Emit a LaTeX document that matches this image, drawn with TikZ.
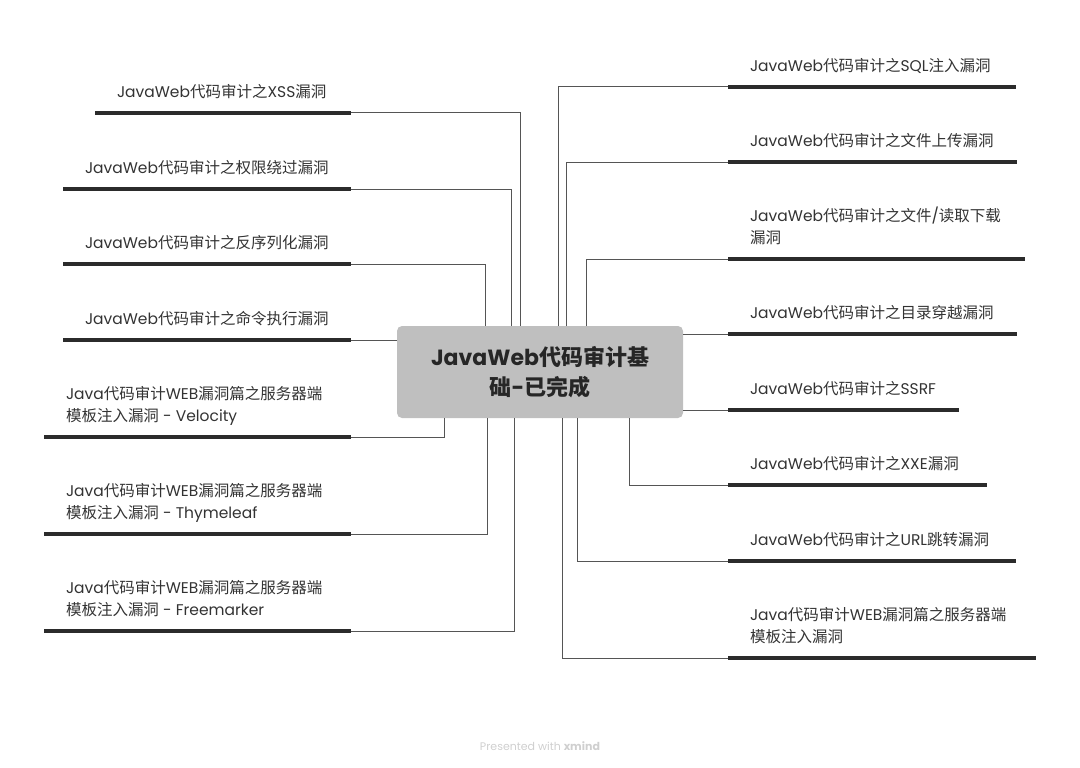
\documentclass[tikz,border=0pt]{standalone}
\usepackage{fontspec}
\setmainfont{Poppins}
\newfontfamily\cjk{Noto Sans CJK SC}
\definecolor{txt}{HTML}{333333}
\definecolor{ulinec}{HTML}{2B2B2B}
\definecolor{connc}{HTML}{555555}
\definecolor{boxfill}{HTML}{BFBFBF}
\definecolor{wmc}{HTML}{CFCFCF}
\newcommand\zh[1]{{\cjk #1}}
\newcommand\tp[2]{\parbox[b]{#1}{\raggedright #2}}
\tikzset{
  topic/.style={anchor=south west, inner xsep=22pt, inner ysep=15.5pt, outer sep=0pt,
    text depth=0pt, font=\fontsize{15.5}{22}\selectfont, text=txt},
  underl/.style={line width=4pt, color=ulinec},
  conn/.style={line width=1pt, color=connc},
  rootbox/.style={fill=boxfill, rounded corners=5pt, minimum width=286pt, minimum height=92pt,
    align=center, inner sep=0pt, outer sep=0pt, text=black!85,
    font=\fontsize{22}{30}\selectfont\bfseries},
}
\begin{document}
\begin{tikzpicture}[x=1pt,y=-1pt]
\useasboundingbox (0,0) rectangle (1080,768);

\node[rootbox] (root) at (540,372) {JavaWeb\zh{代码审计基}\\\zh{础}-\zh{已完成}};

% left topics
\node[topic] (l1) at (95,113) {\tp{212pt}{JavaWeb\zh{代码审计之}XSS\zh{漏洞}}};
\node[topic] (l2) at (63,189) {\tp{244pt}{JavaWeb\zh{代码审计之权限绕过漏洞}}};
\node[topic] (l3) at (63,264) {\tp{244pt}{JavaWeb\zh{代码审计之反序列化漏洞}}};
\node[topic] (l4) at (63,340) {\tp{244pt}{JavaWeb\zh{代码审计之命令执行漏洞}}};
\node[topic] (l5) at (44,437) {\tp{263pt}{Java\zh{代码审计}WEB\zh{漏洞篇之服务器端}\\\zh{模板注入漏洞} - Velocity}};
\node[topic] (l6) at (44,534) {\tp{263pt}{Java\zh{代码审计}WEB\zh{漏洞篇之服务器端}\\\zh{模板注入漏洞} - Thymeleaf}};
\node[topic] (l7) at (44,631) {\tp{263pt}{Java\zh{代码审计}WEB\zh{漏洞篇之服务器端}\\\zh{模板注入漏洞} - Freemarker}};

% right topics
\node[topic] (r1) at (728,87)  {\tp{244pt}{JavaWeb\zh{代码审计之}SQL\zh{注入漏洞}}};
\node[topic] (r2) at (728,162) {\tp{245pt}{JavaWeb\zh{代码审计之文件上传漏洞}}};
\node[topic] (r3) at (728,259) {\tp{253pt}{JavaWeb\zh{代码审计之文件}/\zh{读取下载}\\\zh{漏洞}}};
\node[topic] (r4) at (728,334) {\tp{245pt}{JavaWeb\zh{代码审计之目录穿越漏洞}}};
\node[topic] (r5) at (728,410) {\tp{187pt}{JavaWeb\zh{代码审计之}SSRF}};
\node[topic] (r6) at (728,485) {\tp{215pt}{JavaWeb\zh{代码审计之}XXE\zh{漏洞}}};
\node[topic] (r7) at (728,561) {\tp{244pt}{JavaWeb\zh{代码审计之}URL\zh{跳转漏洞}}};
\node[topic] (r8) at (728,658) {\tp{264pt}{Java\zh{代码审计}WEB\zh{漏洞篇之服务器端}\\\zh{模板注入漏洞}}};

% underlines
\foreach \n in {l1,l2,l3,l4,l5,l6,l7,r1,r2,r3,r4,r5,r6,r7,r8}
  \draw[underl] (\n.south west) -- (\n.south east);

% connector x positions
\coordinate (xl1) at (520,0);
\coordinate (xl2) at (511,0);
\coordinate (xl3) at (485,0);
\coordinate (xl5) at (444,0);
\coordinate (xl6) at (487,0);
\coordinate (xl7) at (514,0);
\coordinate (xr1) at (558,0);
\coordinate (xr2) at (566,0);
\coordinate (xr3) at (586,0);
\coordinate (xr6) at (629,0);
\coordinate (xr7) at (577,0);
\coordinate (xr8) at (562,0);

% connectors
\draw[conn] (l1.south east) -| (root.north -| xl1);
\draw[conn] (l2.south east) -| (root.north -| xl2);
\draw[conn] (l3.south east) -| (root.north -| xl3);
\draw[conn] (l4.south east) -- (root.west |- l4.south east);
\draw[conn] (l5.south east) -| (root.south -| xl5);
\draw[conn] (l6.south east) -| (root.south -| xl6);
\draw[conn] (l7.south east) -| (root.south -| xl7);
\draw[conn] (root.north -| xr1) |- (r1.south west);
\draw[conn] (root.north -| xr2) |- (r2.south west);
\draw[conn] (root.north -| xr3) |- (r3.south west);
\draw[conn] (root.east |- r4.south west) -- (r4.south west);
\draw[conn] (root.east |- r5.south west) -- (r5.south west);
\draw[conn] (root.south -| xr6) |- (r6.south west);
\draw[conn] (root.south -| xr7) |- (r7.south west);
\draw[conn] (root.south -| xr8) |- (r8.south west);

\node[font=\fontsize{11}{13}\selectfont, text=wmc] (wm) at (540,746) {Presented with \textbf{xmind}};
\end{tikzpicture}
\end{document}
